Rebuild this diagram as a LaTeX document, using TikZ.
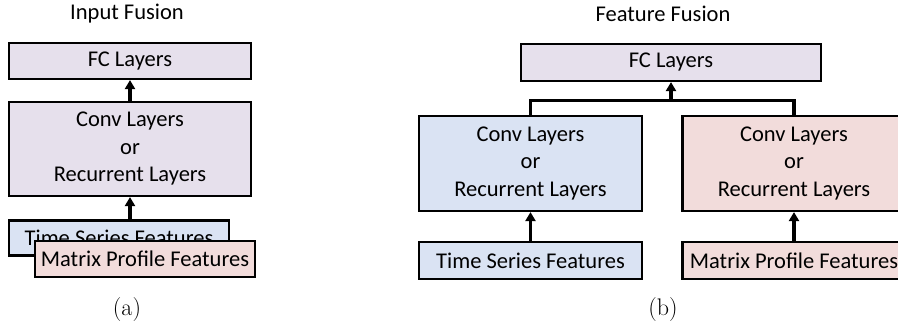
\documentclass[tikz,border=0pt]{standalone}
\usepackage{fontspec}
\setmainfont{Carlito}
\usepackage{tikz}
\usetikzlibrary{arrows.meta,calc}

\definecolor{fclav}{HTML}{E6E0EC}
\definecolor{tsblue}{HTML}{DAE3F3}
\definecolor{mppink}{HTML}{F2DCDB}
\newfontfamily\capfont{Latin Modern Roman}

\begin{document}
\begin{tikzpicture}[x=1pt, y=-1pt,
  every node/.style = {inner sep=0pt, align=center,
    font=\fontsize{22.5}{27.5}\selectfont},
  layerbox/.style = {draw, line width=2.2pt, rectangle},
  title/.style = {font=\fontsize{22.5}{26}\selectfont},
  caption/.style = {font=\capfont\fontsize{24}{28}\selectfont},
  feed/.style = {line width=3.2pt, -{Triangle[width=10pt,length=9pt]}},
  bar/.style = {line width=3.2pt}]
  \useasboundingbox (0,0) rectangle (898,325);
  % (a) input fusion
  \node[title] (titleA) at (127,14) {Input Fusion};
  \node[layerbox, fill=fclav, minimum width=242pt, minimum height=36pt]
    (fcA) at (130,61) {FC Layers};
  \node[layerbox, fill=fclav, minimum width=242pt, minimum height=94pt]
    (convA) at (130,149) {Conv Layers\\or\\Recurrent Layers};
  \node[layerbox, fill=tsblue, minimum width=220pt, minimum height=35pt]
    (tsA) at (119,238) {Time Series Features};
  \node[layerbox, fill=mppink, minimum width=220pt, minimum height=36pt]
    (mpA) at (145,259) {Matrix Profile Features};
  \draw[feed] (convA.north) -- (fcA.south);
  \draw[feed] (tsA.north -| convA.south) -- (convA.south);
  \node[caption] (capA) at (127,310) {(a)};
  % (b) feature fusion
  \node[title] (titleB) at (663,14) {Feature Fusion};
  \node[layerbox, fill=fclav, minimum width=300pt, minimum height=37pt]
    (fcB) at (671,62.5) {FC Layers};
  \node[layerbox, fill=tsblue, minimum width=223pt, minimum height=95pt]
    (convL) at (530.5,163.5) {Conv Layers\\or\\Recurrent Layers};
  \node[layerbox, fill=mppink, minimum width=223pt, minimum height=95pt]
    (convR) at (794,163.5) {Conv Layers\\or\\Recurrent Layers};
  \node[layerbox, fill=tsblue, minimum width=223pt, minimum height=37pt]
    (tsB) at (530.5,260.5) {Time Series Features};
  \node[layerbox, fill=mppink, minimum width=223pt, minimum height=37pt]
    (mpB) at (794,260.5) {Matrix Profile Features};
  \coordinate (joinB) at ($(fcB.south)+(0,18)$);
  \draw[bar] (convL.north) |- (joinB) -| (convR.north);
  \draw[feed] (joinB) -- (fcB.south);
  \draw[feed] (tsB.north) -- (convL.south);
  \draw[feed] (mpB.north) -- (convR.south);
  \node[caption] (capB) at (663,310) {(b)};
\end{tikzpicture}
\end{document}
